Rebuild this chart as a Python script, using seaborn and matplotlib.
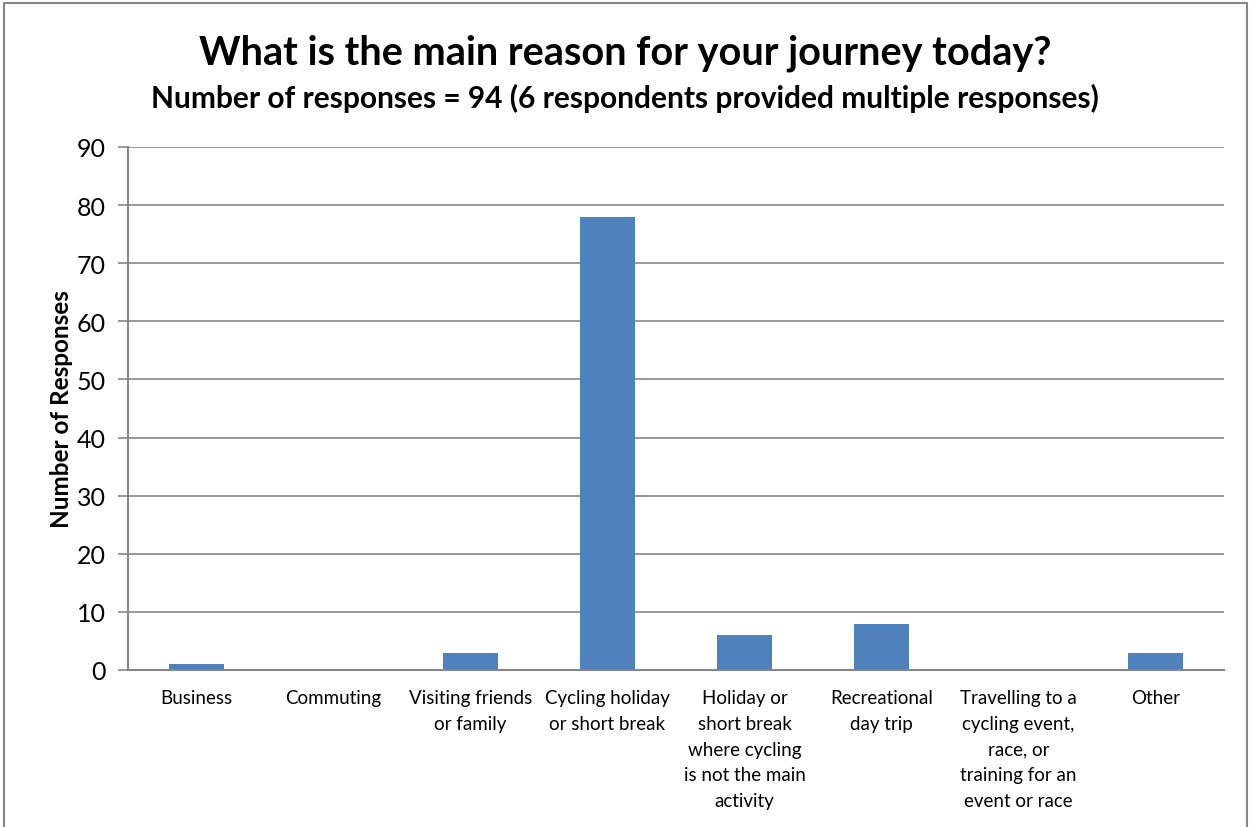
import matplotlib
matplotlib.use("Agg")
import matplotlib.pyplot as plt
import seaborn as sns
import pandas as pd
from matplotlib.patches import Rectangle

categories = [
    "Business",
    "Commuting",
    "Visiting friends\nor family",
    "Cycling holiday\nor short break",
    "Holiday or\nshort break\nwhere cycling\nis not the main\nactivity",
    "Recreational\nday trip",
    "Travelling to a\ncycling event,\nrace, or\ntraining for an\nevent or race",
    "Other",
]
responses = [1, 0, 3, 78, 6, 8, 0, 3]
y_ticks = [0, 10, 20, 30, 40, 50, 60, 70, 80, 90]

sns.set_theme(style="white")
plt.rcParams["font.family"] = ["Lato", "DejaVu Sans"]
plt.rcParams["text.color"] = "black"
plt.rcParams["xtick.color"] = "black"
plt.rcParams["ytick.color"] = "black"
plt.rcParams["axes.labelcolor"] = "black"

df = pd.DataFrame({"category": categories, "responses": responses})

fig = plt.figure(figsize=(12.5, 8.28), dpi=100)
ax = fig.add_axes([128 / 1250, 1 - 671 / 828, (1224 - 128) / 1250, (671 - 148) / 828])

sns.barplot(data=df, x="category", y="responses", color="#4F81BD", width=0.4,
            saturation=1, ax=ax, edgecolor="none")

grid_c = "#868686"
ax.set_ylim(0, 90)
ax.set_xlim(-0.5, len(categories) - 0.5)
ax.set_yticks(y_ticks)
ax.set_yticklabels([str(v) for v in y_ticks], fontsize=18)
ax.yaxis.grid(True, color=grid_c, linewidth=1.2)
ax.set_axisbelow(True)
for s in ["top", "right"]:
    ax.spines[s].set_visible(False)
for s in ["left", "bottom"]:
    ax.spines[s].set_color(grid_c)
    ax.spines[s].set_linewidth(1.5)

ax.set_xticks(range(len(categories)))
ax.set_xticklabels(categories, fontsize=13.5, linespacing=1.62, va="top")
ax.tick_params(axis="x", length=0, pad=14)
ax.set_xticks([i - 0.5 for i in range(len(categories) + 1)], minor=True)
ax.tick_params(axis="x", which="minor", length=7, width=1.5, color=grid_c, direction="out")
ax.tick_params(axis="y", length=7, width=1.2, color=grid_c, labelcolor="black",
               direction="out", left=True, pad=9)
ax.set_xlabel("")
ax.set_ylabel("Number of Responses", fontsize=17.5, fontweight="bold")
ax.yaxis.set_label_coords(-(128 - 73) / 1096, 0.5)

fig.text(0.5, 1 - 53 / 828, "What is the main reason for your journey today?",
         ha="center", va="center", fontsize=28.5, fontweight="bold")
fig.text(0.5, 1 - 98 / 828,
         "Number of responses = 94 (6 respondents provided multiple responses)",
         ha="center", va="center", fontsize=21.5, fontweight="bold")

fig.patches.append(Rectangle((4 / 1250, -0.01), 1243 / 1250, 1 - 4 / 828 + 0.01,
                             transform=fig.transFigure, fill=False,
                             edgecolor="#868686", linewidth=1.5))

fig.savefig("out.png", dpi=100, facecolor="white")
